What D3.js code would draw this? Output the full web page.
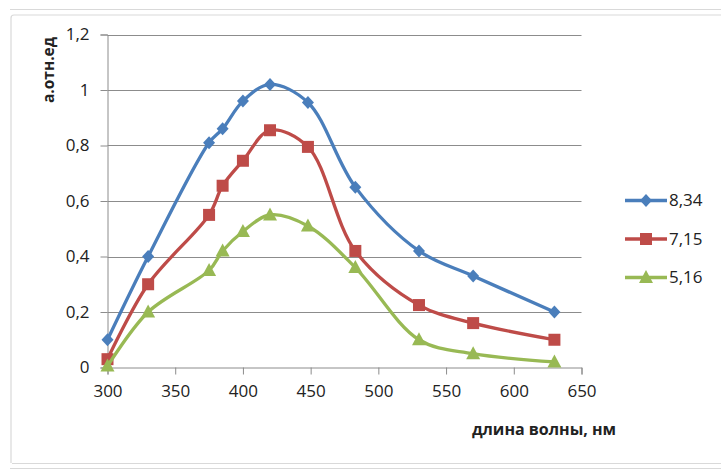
<!DOCTYPE html>
<html>
<head>
<meta charset="utf-8">
<script src="https://cdn.jsdelivr.net/npm/d3@7"></script>
<style>
  html, body { margin: 0; padding: 0; background: #fff; }
  svg { display: block; }
  text { font-family: "Open Sans", "Liberation Sans", sans-serif; fill: #222; }
</style>
</head>
<body>
<svg id="chart" width="721" height="470"></svg>
<script>
// ---- data ----
const wavelengths = [300, 330, 375, 385, 400, 420, 448, 483, 530, 570, 630];
const series834 = [0.10, 0.40, 0.81, 0.86, 0.96, 1.02, 0.955, 0.65, 0.42, 0.33, 0.20];
const series715 = [0.03, 0.30, 0.55, 0.655, 0.745, 0.855, 0.795, 0.42, 0.225, 0.16, 0.10];
const series516 = [0.005, 0.20, 0.35, 0.42, 0.49, 0.55, 0.51, 0.36, 0.10, 0.05, 0.02];
const seriesNames = ["8,34", "7,15", "5,16"];
const xTicks = [300, 350, 400, 450, 500, 550, 600, 650];
const yTicks = [0, 0.2, 0.4, 0.6, 0.8, 1, 1.2];
const xTitle = "длина волны, нм";
const yTitle = "а.отн.ед";

const svg = d3.select("#chart");
const fmt = v => String(+v.toFixed(1)).replace(".", ",");

// frame lines (light gray)
const frame = svg.append("g").attr("stroke", "#d9d9d9").attr("fill", "none").attr("stroke-width", 1.2);
frame.append("line").attr("x1", 10).attr("x2", 721).attr("y1", 9.5).attr("y2", 9.5);
frame.append("path").attr("d", "M11,463 L11,18 Q11,15 14,15 L721,15");
frame.append("line").attr("x1", 12).attr("x2", 721).attr("y1", 463.5).attr("y2", 463.5);
frame.append("line").attr("x1", 10).attr("x2", 721).attr("y1", 468.5).attr("y2", 468.5);

const x = d3.scaleLinear().domain([300, 650]).range([107.5, 581.5]);
const y = d3.scaleLinear().domain([0, 1.2]).range([367.5, 34.5]);

// gridlines
svg.append("g")
  .selectAll("line").data(yTicks.slice(1)).join("line")
  .attr("x1", x(300)).attr("x2", x(650))
  .attr("y1", d => Math.round(y(d)) + 0.5).attr("y2", d => Math.round(y(d)) + 0.5)
  .attr("stroke", "#8c8c8c").attr("stroke-width", 1);

// y axis
const yAxis = svg.append("g").attr("transform", `translate(${x(300)},0)`)
  .call(d3.axisLeft(y).tickValues(yTicks).tickFormat(fmt).tickSize(7).tickPadding(11));
yAxis.select(".domain").attr("stroke", "#8c8c8c");
yAxis.selectAll(".tick line").attr("stroke", "#8c8c8c");
yAxis.selectAll("text").attr("font-size", 17).attr("fill", "#1a1a1a")
  .attr("font-family", "'Open Sans', sans-serif");

// x axis
const xAxis = svg.append("g").attr("transform", `translate(0,${y(0)})`)
  .call(d3.axisBottom(x).tickValues(xTicks).tickFormat(d => d).tickSize(7).tickPadding(10));
xAxis.select(".domain").attr("stroke", "#8c8c8c");
xAxis.selectAll(".tick line").attr("stroke", "#8c8c8c");
xAxis.selectAll("text").attr("font-size", 17).attr("fill", "#1a1a1a")
  .attr("font-family", "'Open Sans', sans-serif");

// titles
svg.append("text").attr("x", 544).attr("y", 435).attr("text-anchor", "middle")
  .attr("font-size", 16).attr("font-weight", "bold").text(xTitle);
svg.append("text").attr("transform", "translate(54,70) rotate(-90)").attr("text-anchor", "middle")
  .attr("font-size", 15.5).attr("font-weight", "bold").text(yTitle);

const colors = ["#4A7EBB", "#BE4B48", "#98B954"];
const allSeries = [series834, series715, series516];
const line = d3.line().x(d => x(d[0])).y(d => y(d[1])).curve(d3.curveCatmullRom.alpha(0.5));

function marker(g, type, cx, cy, color) {
  if (type === 0) {
    g.append("path").attr("d", `M${cx},${cy - 6.5} L${cx + 6},${cy} L${cx},${cy + 6.5} L${cx - 6},${cy} Z`).attr("fill", color);
  } else if (type === 1) {
    g.append("rect").attr("x", cx - 6).attr("y", cy - 6).attr("width", 12).attr("height", 12).attr("fill", color);
  } else {
    g.append("path").attr("d", `M${cx},${cy - 7.5} L${cx + 7},${cy + 5.5} L${cx - 7},${cy + 5.5} Z`).attr("fill", color);
  }
}

allSeries.forEach((vals, i) => {
  const pts = wavelengths.map((w, j) => [w, vals[j]]);
  const g = svg.append("g");
  g.append("path").attr("d", line(pts)).attr("fill", "none")
    .attr("stroke", colors[i]).attr("stroke-width", 3.3).attr("stroke-linejoin", "round");
  pts.forEach(p => marker(g, i, x(p[0]), y(p[1]), colors[i]));
});

// legend
const legendY = [200.5, 239, 277.5];
seriesNames.forEach((name, i) => {
  const g = svg.append("g");
  g.append("line").attr("x1", 625).attr("x2", 667).attr("y1", legendY[i]).attr("y2", legendY[i])
    .attr("stroke", colors[i]).attr("stroke-width", 3.3);
  marker(g, i, 646, legendY[i], colors[i]);
  g.append("text").attr("x", 669).attr("y", legendY[i]).attr("dy", "0.35em")
    .attr("font-size", 17).attr("fill", "#1a1a1a").text(name);
});
</script>
</body>
</html>
